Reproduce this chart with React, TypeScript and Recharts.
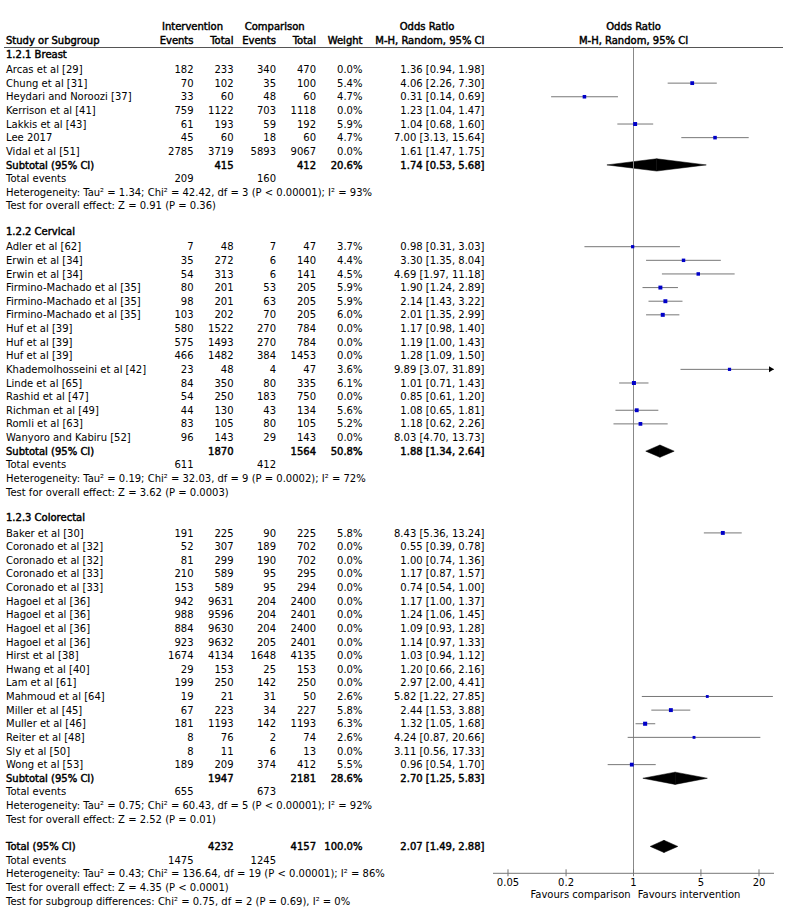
import React from "react";
import {
  ScatterChart,
  Scatter,
  XAxis,
  YAxis,
  ReferenceLine,
  ReferenceArea,
  ReferenceDot,
} from "recharts";

// name, intervention events, intervention total, comparison events, comparison total, weight %, OR, lower, upper
type Study = [string, number, number, number, number, number, number, number, number];

const breast: Study[] = [
  ["Arcas et al [29]", 182, 233, 340, 470, 0, 1.36, 0.94, 1.98],
  ["Chung et al [31]", 70, 102, 35, 100, 5.4, 4.06, 2.26, 7.3],
  ["Heydari and Noroozi [37]", 33, 60, 48, 60, 4.7, 0.31, 0.14, 0.69],
  ["Kerrison et al [41]", 759, 1122, 703, 1118, 0, 1.23, 1.04, 1.47],
  ["Lakkis et al [43]", 61, 193, 59, 192, 5.9, 1.04, 0.68, 1.6],
  ["Lee 2017", 45, 60, 18, 60, 4.7, 7.0, 3.13, 15.64],
  ["Vidal et al [51]", 2785, 3719, 5893, 9067, 0, 1.61, 1.47, 1.75],
];

const cervical: Study[] = [
  ["Adler et al [62]", 7, 48, 7, 47, 3.7, 0.98, 0.31, 3.03],
  ["Erwin et al [34]", 35, 272, 6, 140, 4.4, 3.3, 1.35, 8.04],
  ["Erwin et al [34]", 54, 313, 6, 141, 4.5, 4.69, 1.97, 11.18],
  ["Firmino-Machado et al [35]", 80, 201, 53, 205, 5.9, 1.9, 1.24, 2.89],
  ["Firmino-Machado et al [35]", 98, 201, 63, 205, 5.9, 2.14, 1.43, 3.22],
  ["Firmino-Machado et al [35]", 103, 202, 70, 205, 6.0, 2.01, 1.35, 2.99],
  ["Huf et al [39]", 580, 1522, 270, 784, 0, 1.17, 0.98, 1.4],
  ["Huf et al [39]", 575, 1493, 270, 784, 0, 1.19, 1.0, 1.43],
  ["Huf et al [39]", 466, 1482, 384, 1453, 0, 1.28, 1.09, 1.5],
  ["Khademolhosseini et al [42]", 23, 48, 4, 47, 3.6, 9.89, 3.07, 31.89],
  ["Linde et al [65]", 84, 350, 80, 335, 6.1, 1.01, 0.71, 1.43],
  ["Rashid et al [47]", 54, 250, 183, 750, 0, 0.85, 0.61, 1.2],
  ["Richman et al [49]", 44, 130, 43, 134, 5.6, 1.08, 0.65, 1.81],
  ["Romli et al [63]", 83, 105, 80, 105, 5.2, 1.18, 0.62, 2.26],
  ["Wanyoro and Kabiru [52]", 96, 143, 29, 143, 0, 8.03, 4.7, 13.73],
];

const colorectal: Study[] = [
  ["Baker et al [30]", 191, 225, 90, 225, 5.8, 8.43, 5.36, 13.24],
  ["Coronado et al [32]", 52, 307, 189, 702, 0, 0.55, 0.39, 0.78],
  ["Coronado et al [32]", 81, 299, 190, 702, 0, 1.0, 0.74, 1.36],
  ["Coronado et al [33]", 210, 589, 95, 295, 0, 1.17, 0.87, 1.57],
  ["Coronado et al [33]", 153, 589, 95, 294, 0, 0.74, 0.54, 1.0],
  ["Hagoel et al [36]", 942, 9631, 204, 2400, 0, 1.17, 1.0, 1.37],
  ["Hagoel et al [36]", 988, 9596, 204, 2401, 0, 1.24, 1.06, 1.45],
  ["Hagoel et al [36]", 884, 9630, 204, 2400, 0, 1.09, 0.93, 1.28],
  ["Hagoel et al [36]", 923, 9632, 205, 2401, 0, 1.14, 0.97, 1.33],
  ["Hirst et al [38]", 1674, 4134, 1648, 4135, 0, 1.03, 0.94, 1.12],
  ["Hwang et al [40]", 29, 153, 25, 153, 0, 1.2, 0.66, 2.16],
  ["Lam et al [61]", 199, 250, 142, 250, 0, 2.97, 2.0, 4.41],
  ["Mahmoud et al [64]", 19, 21, 31, 50, 2.6, 5.82, 1.22, 27.85],
  ["Miller et al [45]", 67, 223, 34, 227, 5.8, 2.44, 1.53, 3.88],
  ["Muller et al [46]", 181, 1193, 142, 1193, 6.3, 1.32, 1.05, 1.68],
  ["Reiter et al [48]", 8, 76, 2, 74, 2.6, 4.24, 0.87, 20.66],
  ["Sly et al [50]", 8, 11, 6, 13, 0, 3.11, 0.56, 17.33],
  ["Wong et al [53]", 189, 209, 374, 412, 5.5, 0.96, 0.54, 1.7],
];

const groupTitles = ["1.2.1 Breast", "1.2.2 Cervical", "1.2.3 Colorectal"];
// intervention total, comparison total, weight, OR, lower, upper
const subtotals = [
  [415, 412, 20.6, 1.74, 0.53, 5.68],
  [1870, 1564, 50.8, 1.88, 1.34, 2.64],
  [1947, 2181, 28.6, 2.7, 1.25, 5.83],
];
const groupEvents = [
  [209, 160],
  [611, 412],
  [655, 673],
];
const groupHeterogeneity = [
  "Heterogeneity: Tau² = 1.34; Chi² = 42.42, df = 3 (P < 0.00001); I² = 93%",
  "Heterogeneity: Tau² = 0.19; Chi² = 32.03, df = 9 (P = 0.0002); I² = 72%",
  "Heterogeneity: Tau² = 0.75; Chi² = 60.43, df = 5 (P < 0.00001); I² = 92%",
];
const groupEffect = [
  "Test for overall effect: Z = 0.91 (P = 0.36)",
  "Test for overall effect: Z = 3.62 (P = 0.0003)",
  "Test for overall effect: Z = 2.52 (P = 0.01)",
];
const overall = [4232, 4157, 100.0, 2.07, 1.49, 2.88];
const overallEvents = [1475, 1245];
const overallNotes = [
  "Heterogeneity: Tau² = 0.43; Chi² = 136.64, df = 19 (P < 0.00001); I² = 86%",
  "Test for overall effect: Z = 4.35 (P < 0.0001)",
  "Test for subgroup differences: Chi² = 0.75, df = 2 (P = 0.69), I² = 0%",
];
const xTicks = [0.05, 0.2, 1, 5, 20];

// layout
const W = 800;
const H = 913;
const PLOT_L = 493;
const PLOT_R = 774;
const PLOT_T = 47.7;
const AXIS_Y = 873.3;
const ROW3_Y = 69.5;
const PITCH = 13.63;
const X_MAX = 28.6;
const X_MIN = 1 / X_MAX;
const rowY = (i: number) => ROW3_Y + (i - 3) * PITCH;
const Y_DOMAIN = [3 - (ROW3_Y - PLOT_T) / PITCH, 3 + (AXIS_Y - ROW3_Y) / PITCH];

const COL = { ie: 193.5, it: 233.5, ce: 276, ct: 316, w: 362.5, or: 484.5 };

const fmtCI = (o: number, l: number, h: number) =>
  `${o.toFixed(2)} [${l.toFixed(2)}, ${h.toFixed(2)}]`;

type Line =
  | { kind: "title"; idx: number; text: string }
  | { kind: "study"; idx: number; s: Study }
  | { kind: "sub"; idx: number; label: string; v: number[] }
  | { kind: "events"; idx: number; v: number[] }
  | { kind: "note"; idx: number; text: string };

const lines: Line[] = [];
let idx = 2;
[breast, cervical, colorectal].forEach((g, gi) => {
  lines.push({ kind: "title", idx: idx++, text: groupTitles[gi] });
  g.forEach((s) => lines.push({ kind: "study", idx: idx++, s }));
  lines.push({ kind: "sub", idx: idx++, label: "Subtotal (95% CI)", v: subtotals[gi] });
  lines.push({ kind: "events", idx: idx++, v: groupEvents[gi] });
  lines.push({ kind: "note", idx: idx++, text: groupHeterogeneity[gi] });
  lines.push({ kind: "note", idx: idx++, text: groupEffect[gi] });
  idx++;
});
lines.push({ kind: "sub", idx: idx++, label: "Total (95% CI)", v: overall });
lines.push({ kind: "events", idx: idx++, v: overallEvents });
overallNotes.forEach((t) => lines.push({ kind: "note", idx: idx++, text: t }));

const studyPoints = lines
  .filter((l): l is Extract<Line, { kind: "study" }> => l.kind === "study" && l.s[5] > 0)
  .map((l) => ({ row: l.idx, or: l.s[6], lo: l.s[7], hi: l.s[8], w: l.s[5] }));

const diamonds = lines
  .filter((l): l is Extract<Line, { kind: "sub" }> => l.kind === "sub")
  .map((l) => ({ row: l.idx, or: l.v[3], lo: l.v[4], hi: l.v[5] }));

const boldStyle = { stroke: "#000", strokeWidth: 0.45 };

const T = ({ x, y, anchor = "start", bold = false, children }: any) => (
  <text x={x} y={y} dy="0.36em" textAnchor={anchor} {...(bold ? boldStyle : {})}>
    {children}
  </text>
);

const TableText = () => (
  <svg
    width={W}
    height={H}
    style={{ position: "absolute", left: 0, top: 0, pointerEvents: "none" }}
    fontFamily="DejaVu Sans"
    fontSize={10}
    fill="#000"
  >
    <T x={192.5} y={26.7} anchor="middle" bold>Intervention</T>
    <T x={274.7} y={26.7} anchor="middle" bold>Comparison</T>
    <T x={427} y={26.7} anchor="middle" bold>Odds Ratio</T>
    <T x={633.5} y={26.7} anchor="middle" bold>Odds Ratio</T>
    <T x={6} y={40.7} bold>Study or Subgroup</T>
    <T x={COL.ie} y={40.7} anchor="end" bold>Events</T>
    <T x={COL.it} y={40.7} anchor="end" bold>Total</T>
    <T x={COL.ce} y={40.7} anchor="end" bold>Events</T>
    <T x={COL.ct} y={40.7} anchor="end" bold>Total</T>
    <T x={COL.w} y={40.7} anchor="end" bold>Weight</T>
    <T x={COL.or} y={40.7} anchor="end" bold>M-H, Random, 95% CI</T>
    <T x={633.5} y={40.7} anchor="middle" bold>M-H, Random, 95% CI</T>
    <line x1={4} x2={783} y1={47.5} y2={47.5} stroke="#555" strokeWidth={1} />
    {lines.map((l, i) => {
      const y = rowY(l.idx);
      if (l.kind === "title")
        return <T key={i} x={6} y={y - 1.5} bold>{l.text}</T>;
      if (l.kind === "note")
        return <T key={i} x={6} y={y}>{l.text}</T>;
      if (l.kind === "events")
        return (
          <g key={i}>
            <T x={6} y={y}>Total events</T>
            <T x={COL.ie} y={y} anchor="end">{l.v[0]}</T>
            <T x={COL.ce} y={y} anchor="end">{l.v[1]}</T>
          </g>
        );
      if (l.kind === "sub")
        return (
          <g key={i}>
            <T x={6} y={y} bold>{l.label}</T>
            <T x={COL.it} y={y} anchor="end" bold>{l.v[0]}</T>
            <T x={COL.ct} y={y} anchor="end" bold>{l.v[1]}</T>
            <T x={COL.w} y={y} anchor="end" bold>{l.v[2].toFixed(1)}%</T>
            <T x={COL.or} y={y} anchor="end" bold>{fmtCI(l.v[3], l.v[4], l.v[5])}</T>
          </g>
        );
      const s = l.s;
      return (
        <g key={i}>
          <T x={6} y={y}>{s[0]}</T>
          <T x={COL.ie} y={y} anchor="end">{s[1]}</T>
          <T x={COL.it} y={y} anchor="end">{s[2]}</T>
          <T x={COL.ce} y={y} anchor="end">{s[3]}</T>
          <T x={COL.ct} y={y} anchor="end">{s[4]}</T>
          <T x={COL.w} y={y} anchor="end">{s[5].toFixed(1)}%</T>
          <T x={COL.or} y={y} anchor="end">{fmtCI(s[6], s[7], s[8])}</T>
        </g>
      );
    })}
    <T x={630.7} y={894} anchor="end">Favours comparison</T>
    <T x={637.7} y={894}>Favours intervention</T>
  </svg>
);

const AxisTick = (props: any) => {
  const { x, y, payload } = props;
  return (
    <g>
      <line x1={x} x2={x} y1={y - 4} y2={y + 3} stroke="#777" />
      <text x={x} y={y + 8.6} dy="0.36em" textAnchor="middle" fontFamily="DejaVu Sans" fontSize={10} fill="#000">
        {payload.value}
      </text>
    </g>
  );
};

const Square = (props: any) => {
  const { cx, cy, payload } = props;
  const s = 2 + payload.w * 0.33;
  return <rect x={cx - s / 2} y={cy - s / 2} width={s} height={s} fill="#0000c8" />;
};

const HalfDiamond = (side: "left" | "right") => (p: any) => {
  const { x, y, width, height } = p;
  const pts =
    side === "left"
      ? `${x},${y + height / 2} ${x + width},${y} ${x + width},${y + height}`
      : `${x},${y} ${x + width},${y + height / 2} ${x},${y + height}`;
  return <polygon points={pts} fill="#000" stroke="#000" strokeWidth={0.5} />;
};

const Arrow = (p: any) => (
  <path d={`M${p.cx - 5},${p.cy - 3} L${p.cx},${p.cy} L${p.cx - 5},${p.cy + 3} Z`} fill="#000" />
);

const ForestPlot = () => (
  <ScatterChart
    width={W}
    height={H}
    margin={{ top: PLOT_T, bottom: H - AXIS_Y - 30, left: PLOT_L, right: W - PLOT_R }}
  >
    <XAxis
      type="number"
      dataKey="or"
      scale="log"
      domain={[X_MIN, X_MAX]}
      allowDataOverflow
      ticks={xTicks}
      height={30}
      tickSize={0}
      tickMargin={0}
      tickLine={false}
      axisLine={{ stroke: "#777" }}
      tick={<AxisTick />}
      interval={0}
    />
    <YAxis type="number" dataKey="row" domain={Y_DOMAIN} allowDataOverflow reversed hide />
    <ReferenceLine x={1} stroke="#888" strokeWidth={1} />
    {studyPoints.map((p) => (
      <ReferenceLine
        key={`ci${p.row}`}
        segment={[
          { x: p.lo, y: p.row },
          { x: p.hi, y: p.row },
        ]}
        stroke="#777"
        strokeWidth={1}
        ifOverflow="hidden"
      />
    ))}
    {studyPoints
      .filter((p) => p.hi > X_MAX)
      .map((p) => (
        <ReferenceDot key={`ar${p.row}`} x={X_MAX} y={p.row} shape={Arrow} ifOverflow="visible" />
      ))}
    {diamonds.map((d) => (
      <ReferenceArea
        key={`dl${d.row}`}
        x1={d.lo}
        x2={d.or}
        y1={d.row - 0.45}
        y2={d.row + 0.45}
        shape={HalfDiamond("left")}
        ifOverflow="visible"
      />
    ))}
    {diamonds.map((d) => (
      <ReferenceArea
        key={`dr${d.row}`}
        x1={d.or}
        x2={d.hi}
        y1={d.row - 0.45}
        y2={d.row + 0.45}
        shape={HalfDiamond("right")}
        ifOverflow="visible"
      />
    ))}
    <Scatter data={studyPoints} shape={Square} isAnimationActive={false} />
  </ScatterChart>
);

export default function App() {
  return (
    <div style={{ position: "fixed", left: 0, top: 0, width: W, height: H, background: "#fff" }}>
      <ForestPlot />
      <TableText />
    </div>
  );
}
